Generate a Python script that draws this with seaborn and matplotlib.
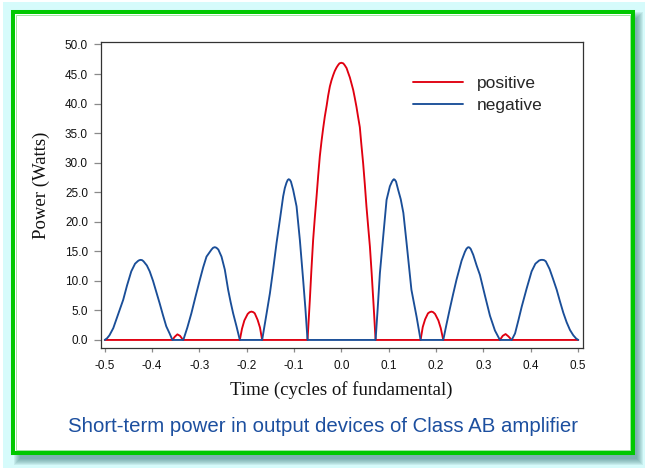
import numpy as np
import pandas as pd
import matplotlib
matplotlib.use("Agg")
import matplotlib.pyplot as plt
from matplotlib.patches import Rectangle
import seaborn as sns

# ---------------- data ----------------
SERIES = ["positive", "negative"]

pos_t = [-0.500, -0.357, -0.352, -0.3465, -0.341, -0.3345,
         -0.2146, -0.210, -0.205, -0.198, -0.194, -0.190, -0.186, -0.183, -0.177, -0.172, -0.1674,
         -0.0715, -0.0666, -0.0635, -0.0597, -0.056, -0.0524, -0.049, -0.0455, -0.042,
         -0.0385, -0.035, -0.031, -0.028, -0.0243, -0.021, -0.0173, -0.014, -0.0102,
         -0.007, -0.004, 0.000, 0.004, 0.007, 0.011, 0.014, 0.018, 0.021, 0.025, 0.028,
         0.032, 0.035, 0.039, 0.042, 0.046, 0.0495, 0.053, 0.0565, 0.0603, 0.064, 0.068, 0.0723,
         0.1674, 0.172, 0.177, 0.183, 0.1865, 0.1904, 0.194, 0.198, 0.205, 0.210, 0.2153,
         0.335, 0.341, 0.347, 0.353, 0.360, 0.5006]
pos_p = [0.0, 0.0, 0.55, 0.95, 0.7, 0.0,
         0.0, 1.9, 3.3, 4.4, 4.7, 4.8, 4.7, 4.5, 3.4, 2.1, 0.0,
         0.0, 6.8, 11.6, 16.9, 20.8, 24.3, 27.8, 31.1, 33.6,
         35.8, 37.8, 39.7, 41.3, 42.9, 43.9, 44.8, 45.5, 46.1,
         46.5, 46.8, 46.9, 46.8, 46.5, 46.0, 45.3, 44.4, 43.5, 42.3, 41.1,
         39.4, 37.9, 36.0, 33.3, 29.9, 26.4, 22.6, 19.3, 15.8, 11.3, 6.0, 0.0,
         0.0, 2.2, 3.5, 4.5, 4.7, 4.8, 4.7, 4.4, 3.3, 2.0, 0.0,
         0.0, 0.7, 1.0, 0.6, 0.0, 0.0]

neg_t = [-0.500, -0.495, -0.490, -0.482, -0.475, -0.468, -0.461, -0.453, -0.444,
         -0.436, -0.430, -0.427, -0.424, -0.421, -0.418, -0.411, -0.405, -0.398, -0.391, -0.384,
         -0.377, -0.370, -0.363, -0.357,
         -0.334, -0.3255, -0.317, -0.308, -0.299, -0.292, -0.285, -0.2744, -0.271, -0.2675,
         -0.264, -0.260, -0.2533, -0.2463, -0.2393, -0.2340, -0.2287, -0.2216, -0.2146,
         -0.1674, -0.158, -0.151, -0.1442, -0.137, -0.130, -0.123, -0.1195, -0.116, -0.1135,
         -0.1113, -0.109, -0.1066, -0.1019, -0.0947, -0.0877, -0.0808, -0.076, -0.0715,
         0.0723, 0.0768, 0.0814, 0.0884, 0.0955, 0.1025, 0.1070, 0.109, 0.111, 0.113, 0.1155,
         0.120, 0.1255, 0.131, 0.1378, 0.148, 0.159, 0.1674,
         0.2153, 0.222, 0.229, 0.236, 0.2433, 0.254, 0.261, 0.2645, 0.268, 0.2705, 0.2733, 0.2787,
         0.2858, 0.2928, 0.3034, 0.314, 0.3245, 0.335,
         0.360, 0.367, 0.374, 0.381, 0.3915, 0.402, 0.410, 0.418, 0.422, 0.4253, 0.4285, 0.432,
         0.440, 0.447, 0.455, 0.462, 0.469, 0.476, 0.483, 0.490, 0.496, 0.5006]
neg_p = [0.0, 0.3, 0.8, 2.0, 3.6, 5.2, 6.8, 9.2, 11.6,
         12.9, 13.35, 13.5, 13.55, 13.5, 13.3, 12.6, 11.6, 10.0, 8.1, 6.2,
         4.2, 2.3, 1.1, 0.0,
         0.0, 2.1, 4.5, 7.4, 10.2, 12.3, 14.1, 15.3, 15.6, 15.7,
         15.6, 15.3, 14.1, 11.9, 8.5, 6.4, 4.5, 2.3, 0.0,
         0.0, 4.5, 7.9, 11.9, 16.4, 20.3, 24.3, 25.7, 26.6, 27.05,
         27.2, 27.1, 26.8, 25.4, 22.6, 16.9, 10.2, 5.3, 0.0,
         0.0, 5.4, 11.3, 17.5, 23.7, 26.0, 26.8, 27.05, 27.2, 27.1, 26.8,
         25.4, 23.8, 21.5, 16.4, 8.5, 3.9, 0.0,
         0.0, 2.6, 5.2, 7.7, 10.2, 13.4, 14.9, 15.45, 15.7, 15.65, 15.4, 14.4,
         12.6, 11.0, 7.5, 4.1, 1.6, 0.0,
         0.0, 1.1, 3.3, 5.6, 8.7, 11.6, 12.9, 13.45, 13.55, 13.55, 13.5, 13.3,
         12.0, 10.4, 8.5, 6.5, 4.6, 3.0, 1.7, 0.8, 0.25, 0.0]

XTICKS = [-0.5, -0.4, -0.3, -0.2, -0.1, 0.0, 0.1, 0.2, 0.3, 0.4, 0.5]
XTICK_LABELS = ["-0.5", "-0.4", "-0.3", "-0.2", "-0.1", "0.0", "0.1", "0.2", "0.3", "0.4", "0.5"]
YTICKS = [0, 5, 10, 15, 20, 25, 30, 35, 40, 45, 50]
YTICK_LABELS = ["0.0", "5.0", "10.0", "15.0", "20.0", "25.0", "30.0", "35.0",
                "40.0", "45.0", "50.0"]

XLABEL = "Time (cycles of fundamental)"
YLABEL = "Power (Watts)"
CAPTION = "Short-term power in output devices of Class AB amplifier"

RED = "#e00010"
BLUE = "#1a4e98"

# ---------------- styling ----------------
sns.set_theme(style="white")
plt.rcParams["font.family"] = ["Liberation Sans", "DejaVu Sans"]
plt.rcParams["axes.unicode_minus"] = False

W, H = 647, 470
fig = plt.figure(figsize=(W / 100, H / 100), dpi=100, facecolor="white")


def box(x0, y0, x1, y1):
    return (x0 / W, 1 - y1 / H), (x1 - x0) / W, (y1 - y0) / H


def add_rect(x0, y0, x1, y1, z, **kw):
    xy, w, h = box(x0, y0, x1, y1)
    fig.patches.append(Rectangle(xy, w, h, transform=fig.transFigure, zorder=z, **kw))


# outer light-cyan glow
add_rect(3, 2, 645, 468, -30, facecolor="#d6fbfb", edgecolor="none")
# soft drop shadow (bottom-right)
for k in range(7):
    add_rect(20 - k, 18 - k, 637 + k, 459 + k, -25 + k * 0.01,
             facecolor="#3c7a7a", edgecolor="none", alpha=0.11)
# white panel with green frame
add_rect(13, 12, 632.5, 453, -10, facecolor="white", edgecolor="#00c800", linewidth=2.9)
add_rect(15.6, 14.6, 629.9, 450.4, -9, facecolor="none", edgecolor="#8fe08f", linewidth=0.6)

ax = fig.add_axes([100.5 / W, 1 - 348 / H, 482.5 / W, 306.5 / H])
ax.set_facecolor("white")

df = pd.concat([
    pd.DataFrame({"t": pos_t, "p": pos_p, "series": SERIES[0]}),
    pd.DataFrame({"t": neg_t, "p": neg_p, "series": SERIES[1]}),
], ignore_index=True)

sns.lineplot(data=df, x="t", y="p", hue="series", hue_order=SERIES,
             palette=[RED, BLUE], estimator=None, sort=False, linewidth=1.35,
             legend=False, ax=ax)
for ln in ax.lines:
    ln.set_solid_joinstyle("round")

ax.set_xlim(-0.509, 0.5106)
ax.set_ylim(-1.36, 50.5)
ax.set_xticks(XTICKS)
ax.set_xticklabels(XTICK_LABELS)
ax.set_yticks(YTICKS)
ax.set_yticklabels(YTICK_LABELS)

for s in ax.spines.values():
    s.set_visible(True)
    s.set_color("#333333")
    s.set_linewidth(0.9)

ax.tick_params(axis="y", left=True, direction="out", length=5, width=0.9,
               color="#8a8a8a", pad=4, labelsize=8.5, labelcolor="#111111")
ax.tick_params(axis="x", bottom=True, direction="out", length=3, width=0.9,
               color="#8a8a8a", pad=5.5, labelsize=8.5, labelcolor="#111111")

ax.set_xlabel(XLABEL, family=["Liberation Serif", "DejaVu Serif"], fontsize=13.5,
              color="#111111")
ax.set_ylabel(YLABEL, family=["Liberation Serif", "DejaVu Serif"], fontsize=13.5,
              color="#111111")
ax.xaxis.set_label_coords(0.5, -0.108)
ax.yaxis.set_label_coords(-0.105, 0.532)

ax.legend(handles=ax.lines[:2], labels=SERIES, loc="upper left",
          bbox_to_anchor=(0.648, 0.889), frameon=False, fontsize=12.5,
          handlelength=2.87, handletextpad=0.8, labelspacing=0.39,
          borderpad=0, borderaxespad=0)

fig.text(323 / W, 1 - 427 / H, CAPTION, ha="center", va="center",
         color="#1c4f9f", fontsize=14.7, family=["Liberation Sans", "DejaVu Sans"])

fig.savefig("out.png", dpi=100, facecolor=fig.get_facecolor())
